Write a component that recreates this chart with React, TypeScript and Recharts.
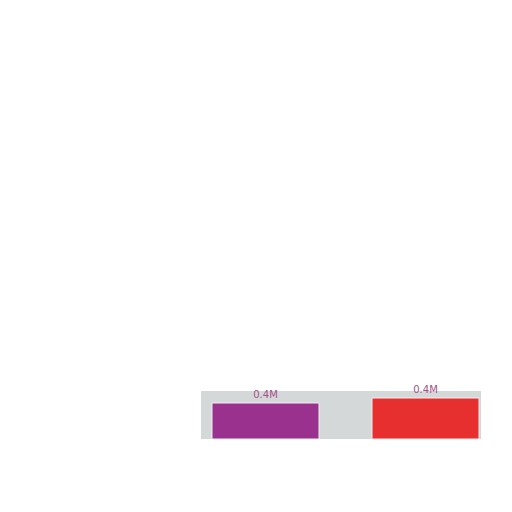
import { BarChart, Bar, XAxis, YAxis, LabelList, Cell, ReferenceArea } from "recharts"

const positions = [0, 1]
const values = [0.36, 0.41] // millions
const colors = ["#9b318e", "#e72f30"]
const totalValue = 0.48
const totalSpan = [-0.4, 1.35]

const data = positions.map((x, i) => ({ x, value: values[i] }))

const fmt = (v: number) => `${v.toFixed(1)}M`

export default function App() {
  return (
    <div style={{ position: "absolute", left: 0, top: 0 }}>
      <BarChart
        width={512}
        height={512}
        data={data}
        margin={{ top: 39, right: 7, bottom: 73, left: 185 }}
      >
        <XAxis dataKey="x" type="number" domain={[-0.5, 1.5]} hide />
        <YAxis hide domain={[0, 4]} />
        <ReferenceArea
          x1={totalSpan[0]}
          x2={totalSpan[1]}
          y1={0}
          y2={totalValue}
          fill="#d5d8d8"
          fillOpacity={1}
          stroke="none"
        />
        <Bar
          dataKey="value"
          barSize={107}
          stroke="#eeeeee"
          strokeWidth={1}
          isAnimationActive={false}
        >
          {data.map((_, i) => (
            <Cell key={i} fill={colors[i]} />
          ))}
          <LabelList
            dataKey="value"
            position="top"
            formatter={(v: any) => fmt(Number(v))}
            fill="#a5508a"
            fontSize={10}
            fontFamily="DejaVu Sans"
          />
        </Bar>
      </BarChart>
    </div>
  )
}
